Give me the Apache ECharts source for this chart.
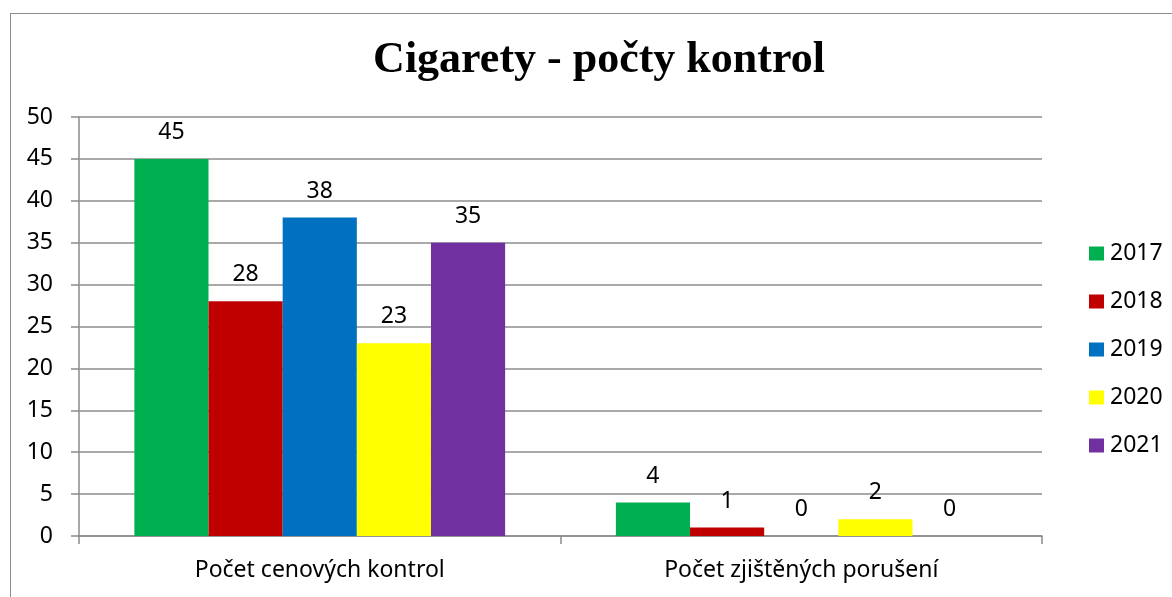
<!DOCTYPE html>
<html><head><meta charset="utf-8">
<script src="https://cdn.jsdelivr.net/npm/echarts@6/dist/echarts.min.js"></script>
<style>html,body{margin:0;padding:0;background:#fff}#c{width:1172px;height:597px}
#frame{position:absolute;left:10px;top:13px;width:1200px;height:640px;border:1.5px solid #8c8c8c;pointer-events:none}</style>
</head><body><div id="c"></div><div id="frame"></div>
<script>
const titleText = 'Cigarety - počty kontrol';
const categories = ['Počet cenových kontrol', 'Počet zjištěných porušení'];
const years = ['2017', '2018', '2019', '2020', '2021'];
const v2017 = [45, 4];
const v2018 = [28, 1];
const v2019 = [38, 0];
const v2020 = [23, 2];
const v2021 = [35, 0];
const seriesValues = [v2017, v2018, v2019, v2020, v2021];
const colors = ['#00B050', '#C00000', '#0070C0', '#FFFF00', '#7030A0'];

const font = 'Noto Sans';
const chart = echarts.init(document.getElementById('c'));
chart.setOption({
  animation: false,
  title: { text: titleText, left: 594, top: 34, textAlign: 'center',
    textStyle: { fontFamily: 'Liberation Serif', fontWeight: 'bold', fontSize: 44, color: '#000' } },
  legend: { orient: 'vertical', left: 1084, top: 237, itemWidth: 15, itemHeight: 14, itemGap: 25,
    icon: 'rect', textStyle: { fontFamily: font, fontSize: 23, color: '#000', padding: [0,0,0,1] }, data: years },
  grid: { left: 79, right: 130, top: 117, bottom: 61, containLabel: false },
  xAxis: { type: 'category', data: categories,
    axisLine: { lineStyle: { color: '#8c8c8c', width: 1.5 } },
    axisTick: { show: true, length: 8, lineStyle: { color: '#8c8c8c', width: 1.5 } },
    axisLabel: { fontFamily: font, fontSize: 23, color: '#000', margin: 23 } },
  yAxis: { type: 'value', min: 0, max: 50, interval: 5,
    axisLine: { show: true, lineStyle: { color: '#8c8c8c', width: 1.5 } },
    axisTick: { show: true, length: 8, lineStyle: { color: '#8c8c8c', width: 1.5 } },
    splitLine: { lineStyle: { color: '#8c8c8c', width: 1.5 } },
    axisLabel: { fontFamily: font, fontSize: 23, color: '#000', margin: 26 } },
  series: years.map((y, i) => ({
    name: y, type: 'bar', data: seriesValues[i], barGap: '0%', barCategoryGap: '23%',
    itemStyle: { color: colors[i] },
    label: { show: true, position: 'top', distance: 15, fontFamily: font, fontSize: 23, color: '#000' }
  }))
});
</script></body></html>
